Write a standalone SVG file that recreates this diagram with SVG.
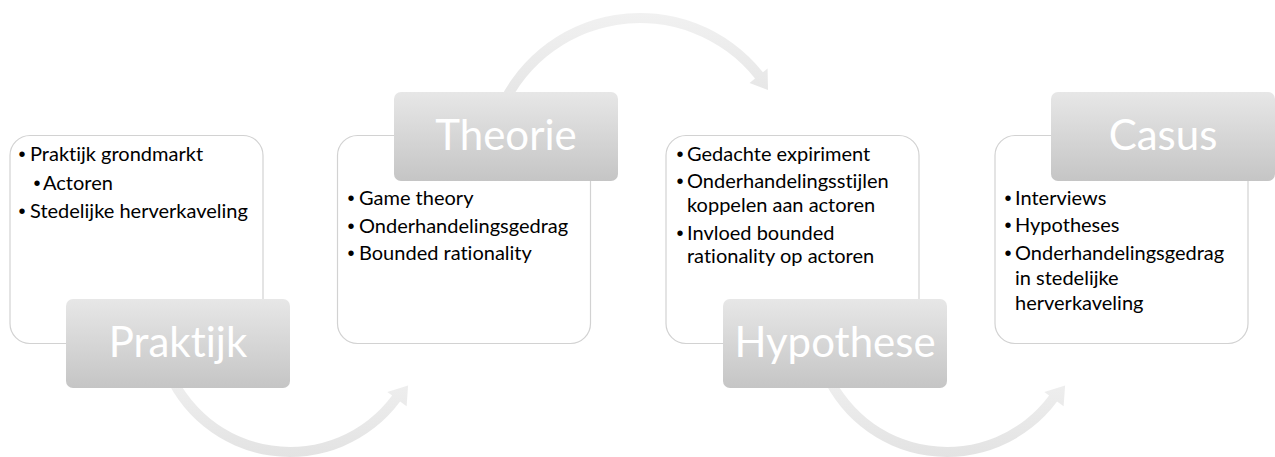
<svg xmlns="http://www.w3.org/2000/svg" width="1275" height="457" viewBox="0 0 1275 457">
  <defs>
    <linearGradient id="labelFill" x1="0" y1="0" x2="0" y2="1">
      <stop offset="0" stop-color="#e7e7e7"/>
      <stop offset="1" stop-color="#c5c5c5"/>
    </linearGradient>
    <linearGradient id="arrowFill" x1="0" y1="0" x2="0" y2="1">
      <stop offset="0" stop-color="#f1f1f1"/>
      <stop offset="1" stop-color="#e3e3e3"/>
    </linearGradient>
    <style>
      .box { fill: #ffffff; stroke: #d2d2d2; stroke-width: 1.2; }
      .label { fill: url(#labelFill); }
      .arrow { fill: url(#arrowFill); }
      text { font-variant-ligatures: none; font-feature-settings: "liga" 0, "clig" 0; }
      .title { font-family: Lato, "Open Sans", "Liberation Sans", sans-serif; font-size: 42px; font-weight: 400; fill: #ffffff; text-anchor: middle; }
      .item { font-family: Lato, "Open Sans", "Liberation Sans", sans-serif; font-size: 20px; fill: #000000; }
      .dot { font-family: "Liberation Sans", sans-serif; font-size: 20px; fill: #000000; text-anchor: middle; }
    </style>
  </defs>

  <rect width="1275" height="457" fill="#ffffff"/>

  <!-- curved process arrows between the stages -->
  <g id="connectors">
    <!-- Praktijk to Theorie (under) -->
    <path class="arrow" d="M161.3,366.9 A137,137 0 0 0 400.1,401.5 L406.6,406.2 L408.1,385.4 L387.3,392 L392.1,395.5 A127,127 0 0 1 170.7,363.4 Z"/>
    <!-- Theorie to Hypothese (over) -->
    <path class="arrow" d="M492.5,116.3 A157,157 0 0 1 762.9,72.3 L767.6,68.5 L768,90 L749.6,82.9 L755,78.5 A147,147 0 0 0 501.9,119.7 Z"/>
    <!-- Hypothese to Casus (under) -->
    <path class="arrow" transform="translate(657,0)" d="M161.3,366.9 A137,137 0 0 0 400.1,401.5 L406.6,406.2 L408.1,385.4 L387.3,392 L392.1,395.5 A127,127 0 0 1 170.7,363.4 Z"/>
  </g>

  <g id="praktijk">
    <rect class="box" x="10" y="135.5" width="253" height="208" rx="20"/>
    <text class="dot" x="22" y="161">•</text>
    <text class="item" x="30" y="161">Praktijk grondmarkt</text>
    <text class="dot" x="37" y="189.5">•</text>
    <text class="item" x="43" y="189.5">Actoren</text>
    <text class="dot" x="22" y="217.5">•</text>
    <text class="item" x="30" y="217.5">Stedelijke herverkaveling</text>
    <rect class="label" x="66" y="299" width="224" height="89" rx="7"/>
    <text class="title" x="178" y="357">Praktijk</text>
  </g>

  <g id="theorie">
    <rect class="box" x="337.5" y="135.5" width="253" height="208" rx="20"/>
    <text class="dot" x="351" y="205">•</text>
    <text class="item" x="359" y="205">Game theory</text>
    <text class="dot" x="351" y="233">•</text>
    <text class="item" x="359" y="233">Onderhandelingsgedrag</text>
    <text class="dot" x="351" y="260">•</text>
    <text class="item" x="359" y="260">Bounded rationality</text>
    <rect class="label" x="394" y="92" width="224" height="89" rx="7"/>
    <text class="title" x="506" y="149.5">Theorie</text>
  </g>

  <g id="hypothese">
    <rect class="box" x="666" y="135.5" width="253" height="208" rx="20"/>
    <text class="dot" x="680" y="161">•</text>
    <text class="item" x="687" y="161">Gedachte expiriment</text>
    <text class="dot" x="680" y="188">•</text>
    <text class="item" x="687" y="188">Onderhandelingsstijlen</text>
    <text class="item" x="687" y="211.5">koppelen aan actoren</text>
    <text class="dot" x="680" y="240">•</text>
    <text class="item" x="687" y="240">Invloed bounded</text>
    <text class="item" x="687" y="263">rationality op actoren</text>
    <rect class="label" x="723" y="299" width="224" height="89" rx="7"/>
    <text class="title" x="835" y="357">Hypothese</text>
  </g>

  <g id="casus">
    <rect class="box" x="995" y="135.5" width="253" height="208" rx="20"/>
    <text class="dot" x="1008" y="205">•</text>
    <text class="item" x="1015" y="205">Interviews</text>
    <text class="dot" x="1008" y="232">•</text>
    <text class="item" x="1015" y="232">Hypotheses</text>
    <text class="dot" x="1008" y="260">•</text>
    <text class="item" x="1015" y="260">Onderhandelingsgedrag</text>
    <text class="item" x="1015" y="285">in stedelijke</text>
    <text class="item" x="1015" y="310">herverkaveling</text>
    <rect class="label" x="1051" y="92" width="224" height="89" rx="7"/>
    <text class="title" x="1163" y="149.5">Casus</text>
  </g>
</svg>
